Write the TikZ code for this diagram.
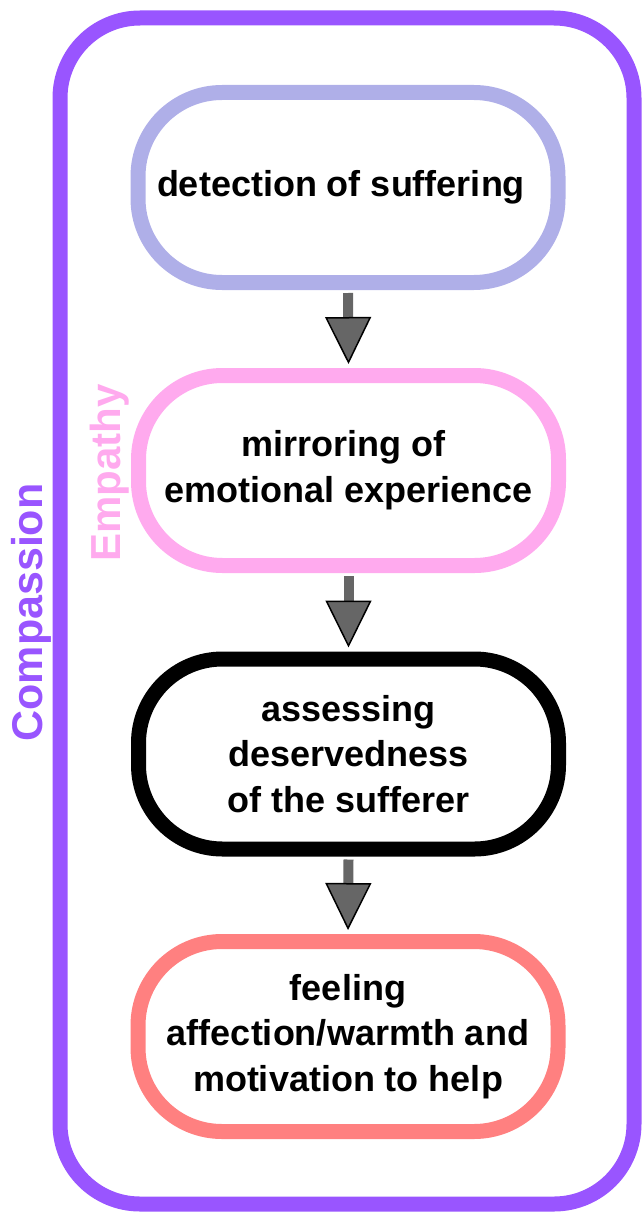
\documentclass[tikz,border=0pt]{standalone}
\usepackage{fontspec}
\setmainfont{Liberation Sans}
\usetikzlibrary{arrows.meta}
\definecolor{cpurple}{HTML}{9955FF}
\definecolor{clav}{HTML}{AFAFE8}
\definecolor{cpink}{HTML}{FFAAEE}
\definecolor{csalmon}{HTML}{FF8080}
\definecolor{cgray}{HTML}{666666}
\begin{document}
\begin{tikzpicture}[x=1pt,y=-1pt,
  stage/.style={draw=#1, line width=15pt, rounded corners=84pt, minimum width=420pt, minimum height=190pt, align=center, font=\fontsize{36}{45.7}\selectfont\bfseries, inner sep=0pt},
  flow/.style={draw=cgray, line width=10pt, -{Triangle[length=47pt,width=46pt,fill=cgray,color=black,line width=1.5pt]}},
  sidelabel/.style={rotate=90, anchor=base, font=\fontsize{#1}{50}\selectfont\bfseries}
  ]
\useasboundingbox (0,0) rectangle (641,1212);
\node[draw=cpurple, line width=15pt, rounded corners=80pt, minimum width=574pt, minimum height=1186pt] (outer) at (347,611) {};
\node[stage=clav] (s1) at (348,187.5) {detection of suffering\hspace*{14pt}};
\node[stage=cpink] (s2) at (348.5,470.5) {mirroring of\hspace*{10pt}\\emotional experience};
\node[stage=black] (s3) at (348.5,754) {assessing\\deservedness\\of the sufferer};
\node[stage=csalmon] (s4) at (348,1036.5) {feeling\\affection/warmth and\\motivation to help};
\draw[flow] ([yshift=-3pt]s1.south) -- ([yshift=4pt]s2.north);
\draw[flow] ([yshift=-3pt]s2.south) -- ([yshift=4pt]s3.north);
\draw[flow] ([yshift=-3pt]s3.south) -- ([yshift=4pt]s4.north);
\node[sidelabel=43, text=cpurple] (lc) at (42.5,612.5) {Compassion};
\node[sidelabel=42, text=cpink] (le) at (120,473) {Empathy};
\end{tikzpicture}
\end{document}
